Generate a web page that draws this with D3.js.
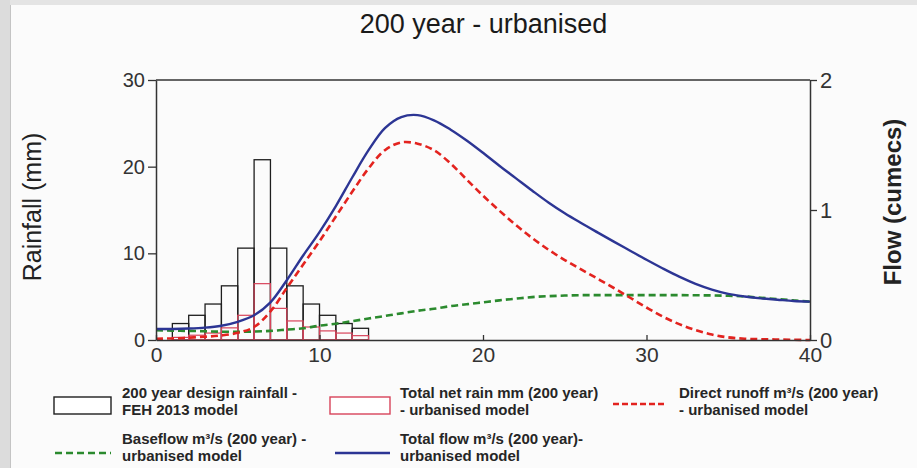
<!DOCTYPE html>
<html>
<head>
<meta charset="utf-8">
<script src="https://cdn.jsdelivr.net/npm/d3@7"></script>
<style>
  body { margin: 0; background: #fbfbfb; }
  svg { display: block; font-family: "Liberation Sans", Arial, sans-serif; }
</style>
</head>
<body>
<svg id="chart" width="917" height="468"></svg>
<script>
// ---------------- DATA ----------------
const chartTitle = "200 year - urbanised";
const leftAxisLabel = "Rainfall (mm)";
const rightAxisLabel = "Flow (cumecs)";

// rainfall blocks: start hour of each 1-hour block
const blockStart = [1, 2, 3, 4, 5, 6, 7, 8, 9, 10, 11, 12];
const designRainfall = [1.9, 2.85, 4.15, 6.25, 10.6, 20.8, 10.6, 6.25, 4.15, 2.85, 1.9, 1.35];
const netRain = [0.3, 0.55, 0.8, 1.4, 2.85, 6.5, 3.65, 2.2, 1.5, 1.05, 0.8, 0.5];

// hydrograph sample hours
const hours = [0,1,2,3,4,5,6,7,8,9,10,11,12,13,14,15,16,17,18,19,20,
               21,22,23,24,25,26,27,28,29,30,31,32,33,34,35,36,37,38,39,40];
const directRunoff = [0.01,0.012,0.018,0.025,0.035,0.055,0.1,0.22,0.4,0.58,0.76,
                      0.95,1.14,1.32,1.46,1.52,1.51,1.46,1.36,1.235,1.11,
                      0.995,0.885,0.785,0.695,0.615,0.543,0.472,0.4,0.325,0.25,
                      0.18,0.122,0.076,0.042,0.02,0.01,0.006,0.004,0.002,0.0];
const baseflow = [0.075,0.072,0.07,0.067,0.064,0.063,0.065,0.07,0.08,0.09,0.11,
                  0.125,0.145,0.165,0.185,0.205,0.225,0.24,0.26,0.275,0.29,
                  0.305,0.318,0.33,0.337,0.342,0.345,0.345,0.345,0.345,0.345,
                  0.345,0.345,0.344,0.343,0.34,0.335,0.325,0.315,0.305,0.295];
const totalFlow = [0.085,0.085,0.088,0.095,0.11,0.14,0.19,0.29,0.46,0.65,0.83,
                   1.03,1.25,1.46,1.63,1.715,1.73,1.69,1.62,1.535,1.44,
                   1.34,1.245,1.15,1.058,0.975,0.9,0.828,0.757,0.687,0.617,
                   0.55,0.487,0.432,0.388,0.355,0.335,0.32,0.31,0.3,0.295];

const rainTicks = [0, 10, 20, 30];
const flowTicks = [0, 1, 2];
const timeTicks = [0, 10, 20, 30, 40];

const legendLabels = [
  ["200 year design rainfall -", "FEH 2013 model"],
  ["Total net rain mm (200 year)", "- urbanised model"],
  ["Direct runoff m\u00B3/s (200 year)", "- urbanised model"],
  ["Baseflow m\u00B3/s (200 year) -", "urbanised model"],
  ["Total flow m\u00B3/s (200 year)-", "urbanised model"]
];

// ---------------- DRAW ----------------
const svg = d3.select("#chart");
const axisColor = "#333";
const cBlack = "#1e1e1e", cNet = "#d8435a", cRun = "#e3231f", cBase = "#2b8a2e", cTotal = "#2c3594";

// page frame decorations
svg.append("rect").attr("x", 0).attr("y", 0).attr("width", 917).attr("height", 468).attr("fill", "#fbfbfb");
svg.append("rect").attr("x", 0).attr("y", 0).attr("width", 10).attr("height", 468).attr("fill", "#dcdcdc");
svg.append("line").attr("x1", 10.5).attr("x2", 10.5).attr("y1", 0).attr("y2", 468).attr("stroke", "#c4c4c4");
svg.append("rect").attr("x", 10).attr("y", 0).attr("width", 907).attr("height", 5).attr("fill", "#e4e4e4");

const x = d3.scaleLinear().domain([0, 40]).range([156, 810]);
const yR = d3.scaleLinear().domain([0, 30]).range([340, 80]);
const yF = d3.scaleLinear().domain([0, 2]).range([340, 80]);

// title
svg.append("text").attr("x", 483.5).attr("y", 33).attr("text-anchor", "middle")
  .attr("font-size", 27).attr("fill", "#1a1a1a").text(chartTitle);

// bars
const bars = svg.append("g");
bars.selectAll("rect.rain").data(blockStart).join("rect")
  .attr("class", "rain")
  .attr("x", d => x(d)).attr("width", d => x(d + 1) - x(d))
  .attr("y", (d, i) => yR(designRainfall[i]))
  .attr("height", (d, i) => yR(0) - yR(designRainfall[i]))
  .attr("fill", "none").attr("stroke", cBlack).attr("stroke-width", 1.3);
bars.selectAll("rect.net").data(blockStart).join("rect")
  .attr("class", "net")
  .attr("x", d => x(d)).attr("width", d => x(d + 1) - x(d))
  .attr("y", (d, i) => yR(netRain[i]))
  .attr("height", (d, i) => yR(0) - yR(netRain[i]))
  .attr("fill", "none").attr("stroke", cNet).attr("stroke-width", 1.2);

// lines
const mk = arr => d3.line().x((d, i) => x(hours[i])).y(d => yF(d)).curve(d3.curveCatmullRom.alpha(0.5))(arr);
svg.append("path").attr("d", mk(baseflow)).attr("fill", "none")
  .attr("stroke", cBase).attr("stroke-width", 2.6).attr("stroke-dasharray", "7,4");
svg.append("path").attr("d", mk(directRunoff)).attr("fill", "none")
  .attr("stroke", cRun).attr("stroke-width", 2.6).attr("stroke-dasharray", "7,4");
svg.append("path").attr("d", mk(totalFlow)).attr("fill", "none")
  .attr("stroke", cTotal).attr("stroke-width", 2.4);

// axes
function styleAxis(g, fs) {
  g.select(".domain").attr("stroke", axisColor).attr("stroke-width", 1.5);
  g.selectAll(".tick line").attr("stroke", axisColor).attr("stroke-width", 1.3);
  g.selectAll(".tick text").attr("fill", "#333").attr("font-size", fs)
    .attr("font-family", "'Liberation Sans', Arial, sans-serif");
}
const gL = svg.append("g").attr("transform", `translate(${x(0)},0)`)
  .call(d3.axisLeft(yR).tickValues(rainTicks).tickSize(8).tickSizeOuter(0).tickPadding(3));
styleAxis(gL, 20);
const gR = svg.append("g").attr("transform", `translate(${x(40)},0)`)
  .call(d3.axisRight(yF).tickValues(flowTicks).tickSize(7).tickSizeOuter(0).tickPadding(3).tickFormat(d3.format("d")));
styleAxis(gR, 22);
const gB = svg.append("g").attr("transform", `translate(0,${yR(0)})`)
  .call(d3.axisBottom(x).tickValues(timeTicks).tickSize(-5).tickSizeOuter(0).tickPadding(7));
styleAxis(gB, 21);
// top frame line
svg.append("line").attr("x1", x(0)).attr("x2", x(40)).attr("y1", yR(30)).attr("y2", yR(30))
  .attr("stroke", axisColor).attr("stroke-width", 1.5);

// axis titles
svg.append("text").attr("transform", "translate(41,207) rotate(-90)")
  .attr("text-anchor", "middle").attr("font-size", 25).attr("fill", "#222").text(leftAxisLabel);
svg.append("text").attr("transform", "translate(901,202) rotate(-90)")
  .attr("text-anchor", "middle").attr("font-size", 24).attr("font-weight", "bold").attr("fill", "#222").text(rightAxisLabel);

// legend
const leg = svg.append("g").attr("font-size", 15).attr("font-weight", "bold").attr("fill", "#262626");
const legPos = [
  {sx: 54, tx: 122, y: 398},
  {sx: 330, tx: 400, y: 398},
  {sx: 613, tx: 679, y: 398},
  {sx: 55, tx: 122, y: 444},
  {sx: 335, tx: 400, y: 444}
];
leg.append("rect").attr("x", legPos[0].sx).attr("y", 397).attr("width", 57).attr("height", 17)
  .attr("fill", "#fff").attr("stroke", cBlack).attr("stroke-width", 1.4);
leg.append("rect").attr("x", legPos[1].sx).attr("y", 397).attr("width", 60).attr("height", 17)
  .attr("fill", "#fff").attr("stroke", cNet).attr("stroke-width", 1.4);
leg.append("line").attr("x1", legPos[2].sx).attr("x2", legPos[2].sx + 54).attr("y1", 404).attr("y2", 404)
  .attr("stroke", cRun).attr("stroke-width", 2.6).attr("stroke-dasharray", "6,3");
leg.append("line").attr("x1", legPos[3].sx).attr("x2", legPos[3].sx + 56).attr("y1", 453).attr("y2", 453)
  .attr("stroke", cBase).attr("stroke-width", 2.6).attr("stroke-dasharray", "7,4");
leg.append("line").attr("x1", legPos[4].sx).attr("x2", legPos[4].sx + 55).attr("y1", 453).attr("y2", 453)
  .attr("stroke", cTotal).attr("stroke-width", 2.4);
legendLabels.forEach((lines, i) => {
  const t = leg.append("text").attr("x", legPos[i].tx).attr("y", legPos[i].y);
  lines.forEach((s, j) => t.append("tspan").attr("x", legPos[i].tx).attr("dy", j ? 16.5 : 0).text(s));
});
</script>
</body>
</html>
